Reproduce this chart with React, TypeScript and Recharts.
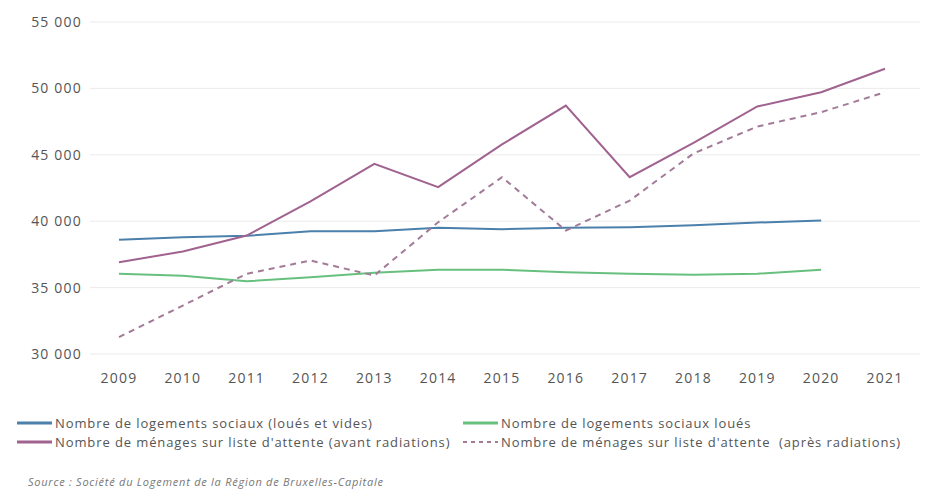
import { LineChart, Line, XAxis, YAxis, CartesianGrid } from "recharts";

const years = ["2009", "2010", "2011", "2012", "2013", "2014", "2015", "2016", "2017", "2018", "2019", "2020", "2021"];

// logements sociaux (loués et vides)
const logementsTotal = [38600, 38800, 38900, 39250, 39250, 39500, 39400, 39500, 39550, 39700, 39900, 40050, null];
// logements sociaux loués
const logementsLoues = [36040, 35900, 35480, 35780, 36110, 36340, 36340, 36160, 36040, 35960, 36040, 36340, null];
// ménages sur liste d'attente (avant radiations)
const attenteAvant = [36910, 37720, 38920, 41500, 44320, 42560, 45780, 48710, 43310, 45900, 48640, 49710, 51480];
// ménages sur liste d'attente (après radiations)
const attenteApres = [31270, 33650, 36040, 37040, 35910, 39920, 43310, 39300, 41550, 45100, 47130, 48210, 49710];

const yTicks = [30000, 35000, 40000, 45000, 50000, 55000];

const BLUE = "#4a80ab";
const GREEN = "#68c07f";
const MAUVE = "#a0628f";
const MAUVE_DASH = "#a37b99";

const data = years.map((y, i) => ({
  year: y,
  total: logementsTotal[i],
  loues: logementsLoues[i],
  avant: attenteAvant[i],
  apres: attenteApres[i],
}));

const fmt = (v: number) => String(v).replace(/\B(?=(\d{3})+(?!\d))/g, " ");

const tickStyle = { fontSize: 14, fill: "#555", fontFamily: "'Open Sans', sans-serif", letterSpacing: 1.2 };

function LegendItem({ color, dashed, label, left, top }: { color: string; dashed?: boolean; label: string; left: number; top: number }) {
  return (
    <div style={{ position: "absolute", left, top, display: "flex", alignItems: "center", whiteSpace: "pre" }}>
      <svg width={35} height={6} style={{ marginRight: 3 }}>
        <line
          x1={0}
          y1={3}
          x2={35}
          y2={3}
          stroke={color}
          strokeWidth={dashed ? 2 : 3}
          strokeDasharray={dashed ? "4 4" : undefined}
        />
      </svg>
      <span style={{ fontSize: 13, color: "#555", letterSpacing: 0.9 }}>{label}</span>
    </div>
  );
}

export default function App() {
  return (
    <div
      style={{
        position: "absolute",
        left: 0,
        top: 0,
        width: 927,
        height: 498,
        background: "#fff",
        fontFamily: "'Open Sans', sans-serif",
      }}
    >
      <LineChart width={927} height={400} data={data} margin={{ top: 22, right: 7, left: 0, bottom: 0 }}>
        <CartesianGrid vertical={false} stroke="#ebebeb" />
        <XAxis
          dataKey="year"
          height={46}
          padding={{ left: 29, right: 35 }}
          axisLine={false}
          tickLine={false}
          tickMargin={13}
          tick={tickStyle}
          interval={0}
        />
        <YAxis
          width={90}
          domain={[30000, 55000]}
          ticks={yTicks}
          axisLine={false}
          tickLine={false}
          tick={tickStyle}
          tickFormatter={fmt}
        />
        <Line type="linear" dataKey="total" stroke={BLUE} strokeWidth={2} dot={false} isAnimationActive={false} />
        <Line type="linear" dataKey="loues" stroke={GREEN} strokeWidth={2} dot={false} isAnimationActive={false} />
        <Line type="linear" dataKey="avant" stroke={MAUVE} strokeWidth={2} dot={false} isAnimationActive={false} />
        <Line
          type="linear"
          dataKey="apres"
          stroke={MAUVE_DASH}
          strokeWidth={2}
          strokeDasharray="6 5"
          dot={false}
          isAnimationActive={false}
        />
      </LineChart>
      <LegendItem color={BLUE} label="Nombre de logements sociaux (loués et vides)" left={17} top={414} />
      <LegendItem color={GREEN} label="Nombre de logements sociaux loués" left={463} top={414} />
      <LegendItem color={MAUVE} label="Nombre de ménages sur liste d'attente (avant radiations)" left={17} top={433} />
      <LegendItem
        color={MAUVE_DASH}
        dashed
        label="Nombre de ménages sur liste d'attente  (après radiations)"
        left={463}
        top={433}
      />
      <div
        style={{
          position: "absolute",
          left: 28,
          top: 474,
          fontSize: 11,
          fontStyle: "italic",
          color: "#777",
          whiteSpace: "nowrap",
          letterSpacing: 0.75,
        }}
      >
        Source : Société du Logement de la Région de Bruxelles-Capitale
      </div>
    </div>
  );
}
